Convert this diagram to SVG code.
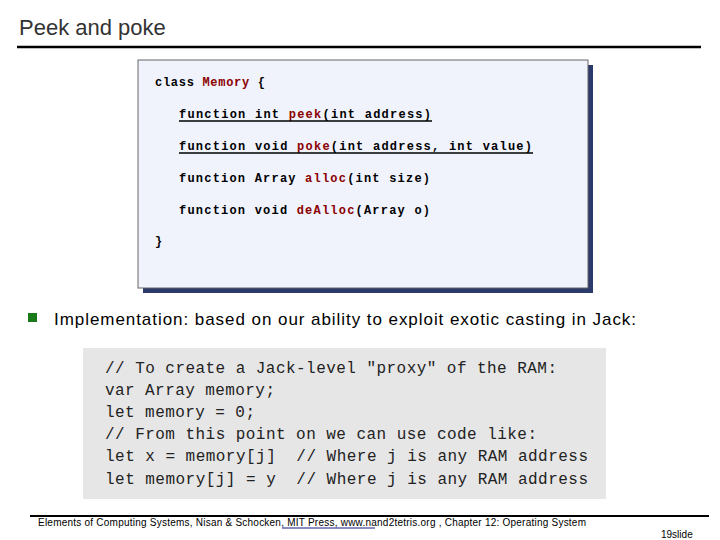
<svg xmlns="http://www.w3.org/2000/svg" width="720" height="540" viewBox="0 0 720 540">
<style>
text{white-space:pre}
.t{font-family:"Liberation Sans",sans-serif}
.c{font-family:"Liberation Mono",monospace;font-size:12px;font-weight:bold;fill:#000}
.r{fill:#8b0000}
.g{font-family:"Liberation Mono",monospace;font-size:16px;fill:#222}
.u{stroke:#000;stroke-width:1.3}
</style>
<rect width="720" height="540" fill="#fff"/>
<text class="t" x="19" y="35" font-size="22" fill="#333">Peek and poke</text>
<line x1="17" y1="47" x2="701" y2="47" stroke="#000" stroke-width="2.5"/>
<g id="memory-class">
<rect x="143" y="65" width="450" height="228" fill="#2b3a6b"/>
<rect x="138" y="60" width="450" height="228" fill="#f0f2fc" stroke="#666" stroke-width="1"/>
<text class="c" x="155" y="86" textLength="110">class <tspan class="r">Memory</tspan> {</text>
<text class="c" x="179" y="118" textLength="252">function int <tspan class="r">peek</tspan>(int address)</text>
<line class="u" x1="179" y1="121" x2="432" y2="121"/>
<text class="c" x="179" y="150" textLength="353">function void <tspan class="r">poke</tspan>(int address, int value)</text>
<line class="u" x1="179" y1="153" x2="533" y2="153"/>
<text class="c" x="179" y="182" textLength="251">function Array <tspan class="r">alloc</tspan>(int size)</text>
<text class="c" x="179" y="214" textLength="251">function void <tspan class="r">deAlloc</tspan>(Array o)</text>
<text class="c" x="155" y="245">}</text>
</g>
<rect x="28" y="313" width="9" height="9" fill="#1a7a1a"/>
<text class="t" x="54" y="325" font-size="17" fill="#000" textLength="582">Implementation: based on our ability to exploit exotic casting in Jack:</text>
<g id="code-box">
<rect x="83" y="348" width="523" height="151" fill="#e6e6e6"/>
<text class="g" x="105" y="373" textLength="452">// To create a Jack-level "proxy" of the RAM:</text>
<text class="g" x="105" y="395" textLength="170">var Array memory;</text>
<text class="g" x="105" y="417" textLength="150">let memory = 0;</text>
<text class="g" x="105" y="439" textLength="432">// From this point on we can use code like:</text>
<text class="g" x="105" y="461" textLength="483">let x = memory[j]  // Where j is any RAM address</text>
<text class="g" x="105" y="484" textLength="483">let memory[j] = y  // Where j is any RAM address</text>
</g>
<line x1="30" y1="516" x2="709" y2="516" stroke="#000" stroke-width="2"/>
<text class="t" x="38" y="526" font-size="10" fill="#000" textLength="548">Elements of Computing Systems, Nisan &amp; Schocken, MIT Press, www.nand2tetris.org , Chapter 12: Operating System</text>
<line x1="282" y1="528" x2="375" y2="528" stroke="#1a1a8a" stroke-width="1"/>
<text class="t" x="661" y="538" font-size="10" fill="#000">19slide</text>
</svg>
